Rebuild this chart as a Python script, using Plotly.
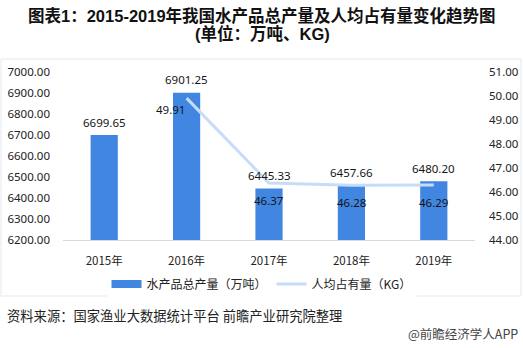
import plotly.graph_objects as go

years = ["2015年", "2016年", "2017年", "2018年", "2019年"]
output_wt = [6699.65, 6901.25, 6445.33, 6457.66, 6480.20]      # 水产品总产量（万吨）
per_capita = [None, 49.91, 46.37, 46.28, 46.29]               # 人均占有量（KG）
left_ticks = [6200, 6300, 6400, 6500, 6600, 6700, 6800, 6900, 7000]
right_ticks = [44, 45, 46, 47, 48, 49, 50, 51]

W, H = 523, 348
L, R, T, B = 63, 475, 72, 240

BAR_BLUE = "#4187e1"
LINE_BLUE = "#c6ddf7"


def px(x):
    return (x - L) / (R - L)


def py(y):
    return (B - y) / (B - T)


NUM_FONT = "Noto Sans, Liberation Sans, sans-serif"
CJK_FONT = "Noto Sans CJK SC, Noto Sans, sans-serif"
LABEL_FONT = dict(size=11.5, color="#151515", family=NUM_FONT)

fig = go.Figure()

fig.add_trace(go.Bar(
    x=years, y=output_wt, name="水产品总产量（万吨）",
    marker=dict(color=BAR_BLUE, line=dict(width=0)),
    width=0.33, showlegend=False, yaxis="y",
))

# legend entry drawn as a flat bar-coloured swatch
fig.add_trace(go.Scatter(
    x=[None], y=[None], name="水产品总产量（万吨）", mode="lines",
    line=dict(color=BAR_BLUE, width=8), yaxis="y",
))

fig.add_trace(go.Scatter(
    x=years, y=per_capita, name="人均占有量（KG）",
    mode="lines",
    line=dict(color=LINE_BLUE, width=3),
    yaxis="y2",
))

annotations = []
# totals above each bar
for yr, v in zip(years, output_wt):
    annotations.append(dict(
        text=f"{v:.2f}", xref="x", yref="y", x=yr, y=v,
        xanchor="center", yanchor="middle", showarrow=False,
        yshift=13, font=LABEL_FONT,
    ))
# per-capita values under the line
for yr, v in zip(years, per_capita):
    if v is None:
        continue
    first = yr == years[1]
    annotations.append(dict(
        text=f"{v:.2f}", xref="x", yref="y2", x=yr, y=v,
        xanchor="center", yanchor="middle", showarrow=False,
        xshift=-16 if first else 0, yshift=-11 if first else -17,
        font=LABEL_FONT,
    ))

TITLE_FONT = dict(size=16.5, color="#111111", family="Liberation Sans, Noto Sans CJK SC")
annotations += [
    dict(text="<b>图表1：2015-2019年我国水产品总产量及人均占有量变化趋势图</b>",
         xref="paper", yref="paper", x=px(262), y=py(15),
         xanchor="center", yanchor="middle", showarrow=False, font=TITLE_FONT),
    dict(text="<b>(单位：万吨、KG)</b>",
         xref="paper", yref="paper", x=px(262), y=py(34),
         xanchor="center", yanchor="middle", showarrow=False, font=TITLE_FONT),
    dict(text="资料来源：国家渔业大数据统计平台 前瞻产业研究院整理",
         xref="paper", yref="paper", x=px(5), y=py(315),
         xanchor="left", yanchor="middle", showarrow=False,
         font=dict(size=13.3, color="#222222", family=CJK_FONT)),
    dict(text="@前瞻经济学人APP",
         xref="paper", yref="paper", x=px(520), y=py(333),
         xanchor="right", yanchor="middle", showarrow=False,
         font=dict(size=12.5, color="#444444", family=CJK_FONT)),
]

fig.update_layout(
    width=W, height=H, autosize=False,
    margin=dict(l=L, r=W - R, t=T, b=H - B, pad=0, autoexpand=False),
    paper_bgcolor="white", plot_bgcolor="white",
    showlegend=True,
    legend=dict(orientation="h", xref="container", x=0.5, xanchor="center",
                yref="container", y=1 - 284 / H, yanchor="middle",
                font=dict(size=12, color="#222222", family=CJK_FONT),
                itemwidth=30, tracegroupgap=0),
    xaxis=dict(showgrid=False, showline=True, linecolor="#d9d9d9", linewidth=1,
               ticks="", ticklabelstandoff=10, automargin=False,
               tickfont=dict(size=11.5, color="#222222", family=CJK_FONT)),
    yaxis=dict(range=[6200, 7000], tickvals=left_ticks, tickformat=".2f",
               showgrid=False, showline=False, zeroline=False, ticks="",
               ticklabelstandoff=12, automargin=False,
               tickfont=dict(size=11.5, color="#222222", family=NUM_FONT)),
    yaxis2=dict(range=[44, 51], tickvals=right_ticks, tickformat=".2f",
                overlaying="y", side="right", automargin=False,
                showgrid=False, showline=False, zeroline=False, ticks="",
                ticklabelstandoff=13,
                tickfont=dict(size=11.5, color="#222222", family=NUM_FONT)),
    shapes=[dict(type="rect", xref="paper", yref="paper",
                 x0=px(1), x1=px(521), y0=py(296), y1=py(59),
                 line=dict(color="#e4e8ee", width=1), layer="below")],
    annotations=annotations,
)

fig.write_html("out.html")
